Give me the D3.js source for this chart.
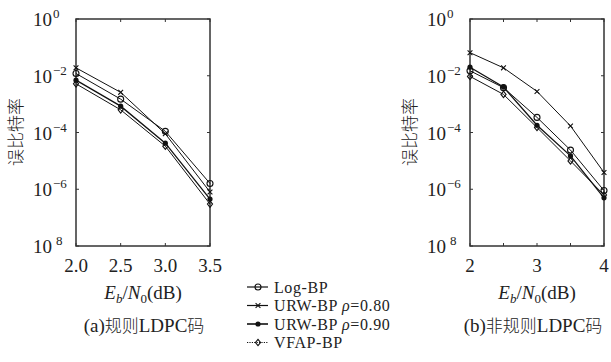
<!DOCTYPE html>
<html>
<head>
<meta charset="utf-8">
<script src="https://cdn.jsdelivr.net/npm/d3@7"></script>
<style>
  body { margin: 0; background: #fff; }
  svg text { fill: #222; }
</style>
</head>
<body>
<svg id="chart"></svg>
<script>
// chart data (bit error rate vs Eb/N0)
const xRegular = [2.0, 2.5, 3.0, 3.5];
const xIrregular = [2.0, 2.5, 3.0, 3.5, 4.0];

const seriesNames = ["Log-BP", "URW-BP ρ=0.80", "URW-BP ρ=0.90", "VFAP-BP"];

// (a) regular LDPC
const regLogBP  = [1.2e-2, 1.5e-3, 1.1e-4, 1.6e-6];
const regURW080 = [1.9e-2, 2.6e-3, 9e-5, 8e-7];
const regURW090 = [7e-3, 8.5e-4, 4.2e-5, 4.5e-7];
const regVFAP   = [5.2e-3, 6.3e-4, 3.3e-5, 3e-7];

// (b) irregular LDPC
const irrLogBP  = [1.5e-2, 3.8e-3, 3.4e-4, 2.4e-5, 9e-7];
const irrURW080 = [6.5e-2, 1.9e-2, 2.8e-3, 1.7e-4, 3.9e-6];
const irrURW090 = [2.0e-2, 4.0e-3, 1.8e-4, 1.5e-5, 5e-7];
const irrVFAP   = [9.5e-3, 2.2e-3, 1.5e-4, 1.0e-5, 6.3e-7];

const yTickValues = [1, 1e-2, 1e-4, 1e-6, 1e-8];
const yTickExps = ["0", "−2", "−4", "−6", "8"];
const xTicksA = [2.0, 2.5, 3.0, 3.5];
const xLabelsA = ["2.0", "2.5", "3.0", "3.5"];
const xTicksB = [2, 2.5, 3, 3.5, 4];
const xLabelsB = ["2", "", "3", "", "4"];

const serif = "'Liberation Serif', 'Times New Roman', serif";
const cjk = "'Noto Sans CJK SC', sans-serif";

const width = 611, height = 362;
const svg = d3.select("#chart").attr("width", width).attr("height", height)
  .style("font-family", serif);

const plotTop = 19, plotBottom = 246;
const markerTypes = ["circle", "cross", "dot", "diamond"];

function drawMarker(g, type, x, y) {
  if (type === "circle") {
    g.append("circle").attr("cx", x).attr("cy", y).attr("r", 3)
      .attr("fill", "none").attr("stroke", "#111").attr("stroke-width", 1.1);
  } else if (type === "cross") {
    const s = 2.4;
    g.append("path").attr("d", `M${x - s},${y - s}L${x + s},${y + s}M${x - s},${y + s}L${x + s},${y - s}`)
      .attr("stroke", "#111").attr("stroke-width", 1.1);
  } else if (type === "dot") {
    g.append("circle").attr("cx", x).attr("cy", y).attr("r", 2.6).attr("fill", "#111");
  } else {
    const s = 3.2;
    g.append("path").attr("d", `M${x},${y - s}L${x + s * 0.8},${y}L${x},${y + s}L${x - s * 0.8},${y}Z`)
      .attr("fill", "none").attr("stroke", "#111").attr("stroke-width", 1.1);
  }
}

function drawPanel(opts) {
  const x = d3.scaleLinear().domain(opts.xDomain).range([opts.left, opts.right]);
  const y = d3.scaleLog().domain([1e-8, 1]).range([plotBottom, plotTop]);
  const g = svg.append("g");

  // frame
  g.append("rect")
    .attr("x", opts.left).attr("y", plotTop)
    .attr("width", opts.right - opts.left).attr("height", plotBottom - plotTop)
    .attr("fill", "none").attr("stroke", "#333").attr("stroke-width", 1.5);

  // inner ticks
  opts.xTicks.forEach(t => {
    g.append("line").attr("x1", x(t)).attr("x2", x(t)).attr("y1", plotBottom).attr("y2", plotBottom - 3)
      .attr("stroke", "#333");
    g.append("line").attr("x1", x(t)).attr("x2", x(t)).attr("y1", plotTop).attr("y2", plotTop + 3)
      .attr("stroke", "#333");
  });
  yTickValues.forEach(t => {
    g.append("line").attr("x1", opts.left).attr("x2", opts.left + 3).attr("y1", y(t)).attr("y2", y(t))
      .attr("stroke", "#333");
    g.append("line").attr("x1", opts.right).attr("x2", opts.right - 3).attr("y1", y(t)).attr("y2", y(t))
      .attr("stroke", "#333");
  });

  // x tick labels
  opts.xTicks.forEach((t, i) => {
    g.append("text").attr("x", x(t)).attr("y", 272)
      .attr("text-anchor", "middle").style("font-size", "19px").text(opts.xLabels[i]);
  });

  // y tick labels
  yTickValues.forEach((t, i) => {
    const txt = g.append("text").attr("x", opts.left - 43).attr("y", y(t) + 7)
      .style("font-size", "19px");
    txt.append("tspan").text("10");
    txt.append("tspan").attr("dy", -8).attr("dx", i === 4 ? 4 : 1)
      .style("font-size", "13px").text(yTickExps[i]);
  });

  // y label
  g.append("text").style("font-family", cjk)
    .attr("transform", `translate(${opts.left - 60},132) rotate(-90)`)
    .attr("text-anchor", "middle").attr("dy", "0.35em").style("font-size", "17px").style("font-weight", 300)
    .text("误比特率");

  // x label
  const cx = (opts.left + opts.right) / 2;
  const xl = g.append("text").attr("x", cx).attr("y", 299).attr("text-anchor", "middle")
    .style("font-size", "19px");
  xl.append("tspan").style("font-style", "italic").text("E");
  xl.append("tspan").attr("dy", 4).style("font-size", "13px").style("font-style", "italic").text("b");
  xl.append("tspan").attr("dy", -4).style("font-size", "19px").text("/");
  xl.append("tspan").style("font-style", "italic").text("N");
  xl.append("tspan").attr("dy", 4).style("font-size", "13px").text("0");
  xl.append("tspan").attr("dy", -4).style("font-size", "19px").text("(dB)");

  // caption
  const cap = g.append("text").attr("x", opts.captionX).attr("y", 332).attr("text-anchor", "middle")
    .style("font-size", "19px");
  cap.append("tspan").text(opts.captionPre);
  cap.append("tspan").style("font-family", cjk).style("font-size", "17px").style("font-weight", 300).text(opts.captionCjk1);
  cap.append("tspan").text("LDPC");
  cap.append("tspan").style("font-family", cjk).style("font-size", "17px").style("font-weight", 300).text("码");

  // series
  const line = d3.line().x(d => x(d[0])).y(d => y(d[1]));
  opts.series.forEach((vals, si) => {
    const pts = opts.xs.map((xv, i) => [xv, vals[i]]);
    g.append("path").datum(pts).attr("d", line)
      .attr("fill", "none").attr("stroke", "#111").attr("stroke-width", si === 2 ? 1.3 : 1);
    pts.forEach(p => drawMarker(g, markerTypes[si], x(p[0]), y(p[1])));
  });
}

drawPanel({
  left: 76, right: 210, xDomain: [2.0, 3.5], xs: xRegular,
  xTicks: xTicksA, xLabels: xLabelsA,
  series: [regLogBP, regURW080, regURW090, regVFAP],
  captionX: 144, captionPre: "(a)", captionCjk1: "规则"
});

drawPanel({
  left: 470, right: 604, xDomain: [2, 4], xs: xIrregular,
  xTicks: xTicksB, xLabels: xLabelsB,
  series: [irrLogBP, irrURW080, irrURW090, irrVFAP],
  captionX: 533, captionPre: "(b)", captionCjk1: "非规则"
});

// legend
const legend = svg.append("g");
seriesNames.forEach((name, i) => {
  const ly = 287 + i * 18.5;
  legend.append("line").attr("x1", 247).attr("x2", 268).attr("y1", ly).attr("y2", ly)
    .attr("stroke", "#111").attr("stroke-width", i === 2 ? 1.6 : 1.2)
    .attr("stroke-dasharray", i === 3 ? "1.2,1.2" : null);
  drawMarker(legend, markerTypes[i], 258, ly);
  const t = legend.append("text").attr("x", 274).attr("y", ly + 5.5)
    .style("font-size", "16px").style("letter-spacing", "0.6px");
  const parts = name.split("ρ");
  t.append("tspan").text(parts[0]);
  if (parts.length > 1) {
    t.append("tspan").style("font-style", "italic").text("ρ");
    t.append("tspan").text(parts[1]);
  }
});
</script>
</body>
</html>
